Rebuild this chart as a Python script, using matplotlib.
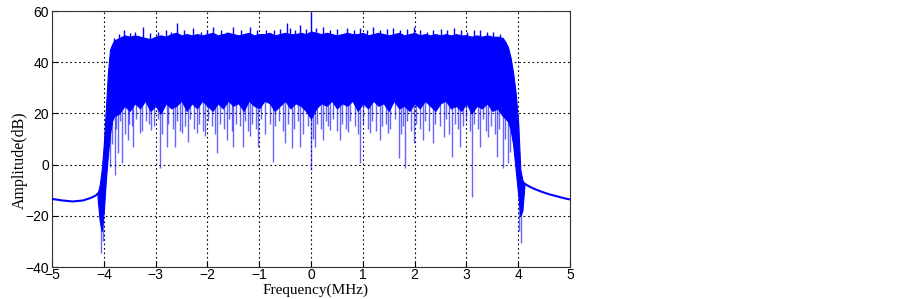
import matplotlib
matplotlib.use('Agg')
import matplotlib.pyplot as plt
import numpy as np

# --- Data (frequency in MHz, amplitude in dB) ---
# out-of-band skirts
LEFT_TAIL_F = [-5.0, -4.8, -4.6, -4.4, -4.25, -4.15, -4.1]
LEFT_TAIL_DB = [-13.4, -14.0, -14.4, -14.0, -13.0, -12.0, -11.0]
RIGHT_TAIL_F = [4.1, 4.2, 4.3, 4.45, 4.6, 4.75, 4.9, 5.0]
RIGHT_TAIL_DB = [-7.2, -8.4, -9.4, -10.6, -11.6, -12.4, -13.2, -13.6]

# band edges of the solid core (rising / falling flanks)
EDGE_L_F = [-4.12, -4.08, -4.04, -4.0, -3.96, -3.92, -3.88, -3.84, -3.8]
EDGE_L_HIGH = [-11.5, -8.0, -2.0, 8.0, 22.0, 36.0, 45.0, 47.0, 48.5]
EDGE_L_LOW = [-13.0, -22.0, -26.0, -18.0, -6.0, 4.0, 12.0, 17.0, 19.0]
EDGE_R_F = [3.75, 3.8, 3.85, 3.9, 3.95, 4.0, 4.04, 4.08, 4.12]
EDGE_R_HIGH = [48.0, 46.0, 42.0, 36.0, 28.0, 16.0, -2.0, -6.0, -7.5]
EDGE_R_LOW = [18.0, 17.0, 14.0, 8.0, -2.0, -12.0, -20.0, -18.0, -8.0]

# in-band core, -3.7 .. 3.7 MHz every 0.1 MHz: top and bottom of the solid area
BAND_F = [-3.7, -3.6, -3.5, -3.4, -3.3, -3.2, -3.1, -3.0, -2.9, -2.8,
          -2.7, -2.6, -2.5, -2.4, -2.3, -2.2, -2.1, -2.0, -1.9, -1.8,
          -1.7, -1.6, -1.5, -1.4, -1.3, -1.2, -1.1, -1.0, -0.9, -0.8,
          -0.7, -0.6, -0.5, -0.4, -0.3, -0.2, -0.1, 0.0, 0.1, 0.2,
          0.3, 0.4, 0.5, 0.6, 0.7, 0.8, 0.9, 1.0, 1.1, 1.2,
          1.3, 1.4, 1.5, 1.6, 1.7, 1.8, 1.9, 2.0, 2.1, 2.2,
          2.3, 2.4, 2.5, 2.6, 2.7, 2.8, 2.9, 3.0, 3.1, 3.2,
          3.3, 3.4, 3.5, 3.6, 3.7]
BAND_HIGH = [49.5, 50.5, 50.0, 50.5, 50.0, 49.5, 49.0, 50.0, 50.5, 50.0,
             51.0, 51.5, 50.5, 51.0, 50.5, 51.0, 50.5, 51.0, 51.5, 50.5,
             51.0, 51.5, 51.0, 50.5, 51.0, 51.5, 50.5, 51.0, 51.0, 51.5,
             50.5, 51.0, 51.5, 51.0, 51.0, 51.5, 51.0, 52.0, 51.5, 51.0,
             51.5, 51.0, 50.5, 51.0, 51.5, 51.0, 51.0, 51.5, 50.5, 51.0,
             51.5, 51.0, 50.5, 51.0, 51.5, 50.5, 51.0, 51.5, 50.5, 51.0,
             50.5, 51.0, 50.5, 51.0, 50.5, 51.0, 50.5, 50.5, 50.0, 50.5,
             50.0, 50.5, 50.0, 50.0, 49.5]
BAND_LOW = [20, 23, 21, 24, 22, 25, 21, 23, 20, 24,
            22, 23, 25, 21, 24, 22, 25, 23, 21, 24,
            22, 25, 23, 24, 21, 25, 23, 22, 25, 24,
            21, 23, 25, 22, 24, 23, 21, 18, 22, 24,
            23, 25, 22, 24, 23, 25, 21, 24, 22, 25,
            23, 24, 21, 25, 22, 23, 21, 24, 22, 25,
            23, 21, 24, 25, 22, 23, 21, 24, 20, 23,
            22, 24, 21, 22, 19]

# deep downward spikes (frequency, lowest dB)
DEEP_F = [-4.06, -4.02, -3.88, -3.78, -3.72, -3.65, -3.53, -3.43, -3.30, -3.08,
          -2.92, -2.79, -2.63, -2.50, -2.37, -2.21, -2.05, -1.82, -1.63, -1.50,
          -1.31, -1.18, -1.02, -0.73, -0.50, -0.37, -0.21, 0.0, 0.08, 0.24,
          0.37, 0.56, 0.72, 0.95, 1.14, 1.33, 1.49, 1.69, 1.81, 1.98,
          2.17, 2.36, 2.56, 2.72, 2.88, 3.10, 3.26, 3.42, 3.58, 3.70,
          3.81, 4.05, 4.02]
DEEP_DB = [-34.6, -30.0, -0.8, -4.0, 4.5, 0.6, 9.6, 7.0, 12.3, 13.5,
           -1.4, 7.0, 7.0, 12.3, 9.0, 12.3, 11.0, 4.5, 9.6, 7.0,
           7.0, 11.0, 7.0, 1.2, 8.3, 6.4, 7.0, -2.0, 7.0, 9.6,
           13.5, 9.6, 12.9, 0.5, 12.2, 9.6, 12.2, 2.5, -1.4, 8.3,
           9.6, 8.3, 10.9, 3.1, 7.0, -12.5, 7.0, 10.9, 3.1, -1.4,
           0.5, -30.6, -26.0]

# shallower downward spikes hanging below the solid core
MID_F = [-3.85, -3.76, -3.68, -3.59, -3.51, -3.45, -3.37, -3.27, -3.19, -3.12,
         -3.03, -2.95, -2.87, -2.76, -2.67, -2.58, -2.52, -2.43, -2.33, -2.25,
         -2.17, -2.09, -1.99, -1.92, -1.85, -1.76, -1.68, -1.59, -1.53, -1.45,
         -1.37, -1.27, -1.21, -1.14, -1.06, -0.97, -0.89, -0.79, -0.69, -0.61,
         -0.54, -0.45, -0.33, -0.26, -0.16, -0.06, 0.03, 0.12, 0.19, 0.28,
         0.33, 0.42, 0.51, 0.60, 0.67, 0.76, 0.84, 0.91, 1.01, 1.09,
         1.18, 1.26, 1.37, 1.44, 1.53, 1.62, 1.73, 1.77, 1.86, 1.93,
         2.02, 2.11, 2.20, 2.28, 2.40, 2.48, 2.60, 2.67, 2.78, 2.84,
         2.93, 3.00, 3.07, 3.15, 3.22, 3.31, 3.38, 3.47, 3.55, 3.63,
         3.74, 3.85]
MID_DB = [8, 14, 17, 12, 16, 15, 18, 13, 17, 16,
          15, 18, 12, 16, 14, 17, 13, 15, 18, 14,
          16, 13, 17, 15, 12, 16, 14, 18, 13, 16,
          15, 17, 13, 16, 14, 18, 12, 16, 15, 17,
          13, 16, 14, 17, 12, 15, 10, 16, 14, 17,
          15, 18, 13, 16, 14, 17, 15, 12, 16, 14,
          17, 13, 15, 16, 14, 18, 12, 15, 17, 13,
          16, 14, 17, 13, 16, 15, 18, 12, 16, 14,
          15, 17, 13, 16, 14, 18, 13, 15, 12, 14,
          10, 5]

# upward peaks above the solid core (frequency, highest dB)
PEAK_F = [-3.80, -3.70, -3.62, -3.50, -3.40, -3.24, -3.10, -2.96, -2.80, -2.70,
          -2.59, -2.46, -2.27, -2.12, -2.00, -1.89, -1.74, -1.62, -1.50, -1.36,
          -1.18, -1.04, -0.86, -0.72, -0.60, -0.47, -0.41, -0.30, -0.21, -0.10,
          0.0, 0.10, 0.24, 0.36, 0.50, 0.69, 0.82, 0.95, 1.08, 1.20,
          1.34, 1.46, 1.59, 1.72, 1.86, 1.98, 2.10, 2.24, 2.36, 2.50,
          2.62, 2.75, 2.90, 3.02, 3.14, 3.26, 3.40, 3.52, 3.64]
PEAK_DB = [49.5, 51.0, 52.6, 51.5, 52.0, 53.9, 51.5, 52.0, 52.5, 52.0,
           55.2, 52.5, 53.2, 52.0, 52.5, 53.9, 52.5, 52.0, 53.9, 52.5,
           53.9, 52.5, 52.6, 52.5, 53.0, 55.2, 53.2, 52.5, 54.5, 53.0,
           59.7, 53.5, 53.9, 52.5, 53.0, 53.2, 52.5, 53.2, 52.5, 53.9,
           52.5, 53.0, 53.2, 52.5, 53.0, 53.9, 52.5, 52.0, 52.6, 53.0,
           52.5, 53.2, 52.5, 52.0, 52.5, 52.6, 52.0, 52.0, 51.0]

X_TICKS = [-5, -4, -3, -2, -1, 0, 1, 2, 3, 4, 5]
Y_TICKS = [-40, -20, 0, 20, 40, 60]

BLUE = '#0000ff'

core_f = EDGE_L_F + BAND_F + EDGE_R_F
core_high = EDGE_L_HIGH + BAND_HIGH + EDGE_R_HIGH
core_low = EDGE_L_LOW + BAND_LOW + EDGE_R_LOW

fig = plt.figure(figsize=(9.03, 2.99), dpi=100)
ax = fig.add_axes([0.0576, 0.107, 0.5737, 0.856])

# solid core of the spectrum
ax.fill_between(core_f, core_low, core_high, color=BLUE, linewidth=0.8,
                edgecolor=BLUE, zorder=3)

# spikes
high_at = np.interp(PEAK_F, core_f, core_high)
ax.vlines(PEAK_F, high_at - 1, PEAK_DB, color=BLUE, lw=1.0, zorder=3)
low_mid = np.interp(MID_F, core_f, core_low)
ax.vlines(MID_F, MID_DB, low_mid + 1, color=BLUE, lw=1.0, alpha=0.6, zorder=3)
low_deep = np.interp(DEEP_F, core_f, core_low)
ax.vlines(DEEP_F, DEEP_DB, low_deep + 1, color=BLUE, lw=1.0, alpha=0.6, zorder=3)

# skirts
ax.plot(LEFT_TAIL_F, LEFT_TAIL_DB, color=BLUE, lw=1.5, zorder=3)
ax.plot(RIGHT_TAIL_F, RIGHT_TAIL_DB, color=BLUE, lw=1.5, zorder=3)

ax.set_xlim(-5, 5)
ax.set_ylim(-40, 60)
ax.set_xticks(X_TICKS)
ax.set_yticks(Y_TICKS)
ax.tick_params(direction='in', length=4, width=0.8, labelsize=10, pad=2,
               top=False, right=False)
ax.tick_params(axis='x', pad=1)
for lab in ax.get_xticklabels() + ax.get_yticklabels():
    lab.set_fontfamily('Liberation Sans')
ax.set_axisbelow(True)
ax.grid(True, color='black', linestyle=(0, (1.5, 2.5)), linewidth=0.8)
for sp in ax.spines.values():
    sp.set_color('#333333')
    sp.set_linewidth(0.8)

ax.set_xlabel('Frequency(MHz)', family='Liberation Serif', fontsize=11)
ax.set_ylabel('Amplitude(dB)', family='Liberation Serif', fontsize=11.5)
ax.xaxis.set_label_coords(0.508, -0.063)
ax.yaxis.set_label_coords(-0.046, 0.418)

fig.savefig('out.png', dpi=100)
